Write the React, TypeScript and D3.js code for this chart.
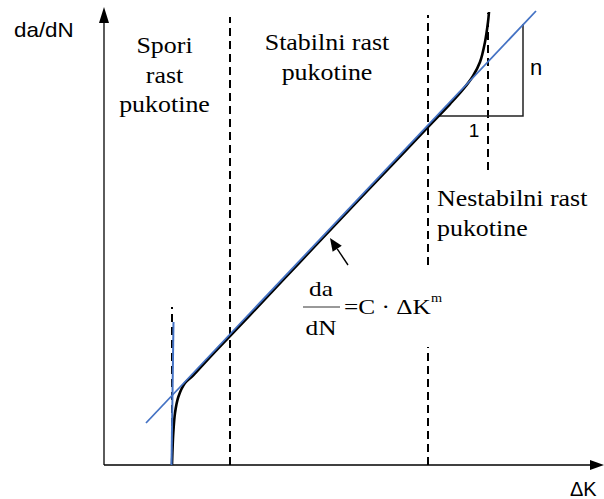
import React from "react";
import * as d3 from "d3";

const W = 604;
const H = 499;

// Crack growth curve (log ΔK vs log da/dN, schematic units)
const curveK = [1.36, 1.37, 1.386, 1.42, 1.486, 1.62, 1.78, 2.12, 2.92, 3.92, 4.92, 5.92, 6.48, 6.92, 7.18, 7.38, 7.52, 7.62, 7.68, 7.7];
const curveRate = [0, 0.3, 0.64, 1.04, 1.36, 1.64, 1.79, 2.16, 3.0, 4.06, 5.12, 6.17, 6.76, 7.22, 7.51, 7.78, 8.06, 8.46, 8.86, 9.06];

// Paris-law tangent line
const parisK = [0.84, 8.64];
const parisRate = [0.84, 9.08];

// Threshold asymptote (blue vertical)
const thresholdK = [1.39, 1.35];
const thresholdRate = [2.86, 0];

// Region dividers (dashed)
const dividerK = [2.52, 6.48, 6.48, 7.68, 1.36];
const dividerTop = [8.96, 9.0, 2.36, 9.04, 3.16];
const dividerBottom = [0, 4.0, 0, 5.9, 0];

// Slope triangle
const triK = [6.68, 8.38, 8.38];
const triRate = [6.98, 6.98, 8.82];

// Axes extent
const axisKMax = 10;
const axisRateMax = 9.16;

// Region labels
const regionLabels = [
  { lines: ["Spori", "rast", "pukotine"], x: 164.5, y: 53, anchor: "middle" },
  { lines: ["Stabilni rast", "pukotine"], x: 327, y: 50, anchor: "middle" },
  { lines: ["Nestabilni rast", "pukotine"], x: 437, y: 206, anchor: "start" },
];

const SERIF = "'Liberation Serif', 'Times New Roman', 'DejaVu Serif', serif";
const SANS = "'Liberation Sans', Arial, sans-serif";

const x = d3.scaleLinear().domain([0, 10]).range([104, 604]);
const y = d3.scaleLinear().domain([0, 9.3]).range([465, 0]);

function ScaledText({ x: tx, y: ty, sx = 1.1, family, size, anchor = "start", children }: any) {
  return (
    <text
      transform={`translate(${tx},${ty}) scale(${sx},1)`}
      textAnchor={anchor}
      fill="#000"
      style={{ fontFamily: family, fontSize: `${size}px` }}
    >
      {children}
    </text>
  );
}

export default function App() {
  const line = d3
    .line<number>()
    .x((_, i) => x(curveK[i]))
    .y((_, i) => y(curveRate[i]))
    .curve(d3.curveCatmullRom.alpha(0.5));
  const curvePath = line(curveK) || "";

  const x0 = x(0);
  const y0 = y(0);
  const yTop = y(axisRateMax);
  const xEnd = x(axisKMax);

  // annotation arrow toward the tangent line
  const arrowFrom = [x(4.88), y(4.0)];
  const arrowTo = [x(4.52), y(4.54)];
  const ang = Math.atan2(arrowTo[1] - arrowFrom[1], arrowTo[0] - arrowFrom[0]);
  const hl = 13, hw = 5.5;
  const bx = arrowTo[0] - hl * Math.cos(ang);
  const by = arrowTo[1] - hl * Math.sin(ang);
  const head = `M${arrowTo[0]},${arrowTo[1]} L${bx + hw * Math.sin(ang)},${by - hw * Math.cos(ang)} L${bx - hw * Math.sin(ang)},${by + hw * Math.cos(ang)} Z`;

  return (
    <svg width={W} height={H} style={{ position: "absolute", left: 0, top: 0 }}>
      <rect width={W} height={H} fill="#fff" />
      {/* dividers */}
      {dividerK.map((k, i) => (
        <line
          key={i}
          x1={x(k)}
          x2={x(k)}
          y1={y(dividerBottom[i])}
          y2={y(dividerTop[i])}
          stroke="#000"
          strokeWidth={2}
          strokeDasharray="8,5"
        />
      ))}
      {/* axes */}
      <line x1={x0} y1={y0} x2={x0} y2={yTop + 12} stroke="#333" strokeWidth={1.6} />
      <path d={`M${x0},${yTop} L${x0 - 5},${yTop + 16} L${x0 + 5},${yTop + 16} Z`} fill="#000" />
      <line x1={x0} y1={y0} x2={xEnd - 12} y2={y0} stroke="#000" strokeWidth={1.6} />
      <path d={`M${xEnd},${y0} L${xEnd - 14},${y0 - 5} L${xEnd - 14},${y0 + 5} Z`} fill="#000" />
      {/* slope triangle */}
      <polyline
        points={triK.map((k, i) => `${x(k)},${y(triRate[i])}`).join(" ")}
        fill="none"
        stroke="#222"
        strokeWidth={1.5}
      />
      {/* black curve */}
      <path d={curvePath} fill="none" stroke="#000" strokeWidth={2.6} />
      {/* blue lines */}
      <line
        x1={x(parisK[0])}
        y1={y(parisRate[0])}
        x2={x(parisK[1])}
        y2={y(parisRate[1])}
        stroke="#4472C4"
        strokeWidth={1.8}
      />
      <line
        x1={x(thresholdK[0])}
        y1={y(thresholdRate[0])}
        x2={x(thresholdK[1])}
        y2={y(thresholdRate[1])}
        stroke="#4472C4"
        strokeWidth={2}
      />
      {/* annotation arrow */}
      <line x1={arrowFrom[0]} y1={arrowFrom[1]} x2={bx} y2={by} stroke="#000" strokeWidth={1.4} />
      <path d={head} fill="#000" />
      {/* axis labels */}
      <ScaledText x={14} y={37} sx={1.12} family={SANS} size={20}>da/dN</ScaledText>
      <ScaledText x={570} y={496} sx={1} family={SANS} size={20}>ΔK</ScaledText>
      <ScaledText x={530} y={75} sx={1} family={SANS} size={22}>n</ScaledText>
      <ScaledText x={474} y={137} sx={1} family={SANS} size={19} anchor="middle">1</ScaledText>
      {/* region labels */}
      {regionLabels.map((r, i) =>
        r.lines.map((t, j) => (
          <ScaledText
            key={`${i}-${j}`}
            x={r.x}
            y={r.y + j * 29.7}
            sx={1.08}
            family={SERIF}
            size={24}
            anchor={r.anchor}
          >
            {t}
          </ScaledText>
        ))
      )}
      {/* formula */}
      <ScaledText x={321} y={296} sx={1.15} family={SERIF} size={22} anchor="middle">da</ScaledText>
      <line x1={303} x2={340} y1={307} y2={307} stroke="#333" strokeWidth={1} />
      <ScaledText x={321} y={335} sx={1.15} family={SERIF} size={22} anchor="middle">dN</ScaledText>
      <ScaledText x={344} y={314} sx={1.15} family={SERIF} size={22}>=C · ΔK</ScaledText>
      <ScaledText x={431} y={302} sx={1.1} family={SERIF} size={13}>m</ScaledText>
    </svg>
  );
}
